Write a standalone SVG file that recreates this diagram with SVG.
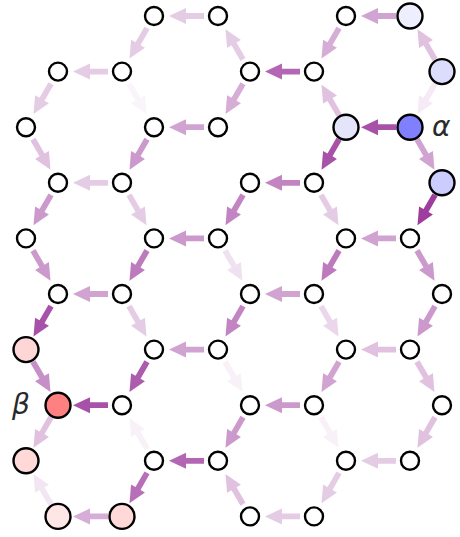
<svg xmlns="http://www.w3.org/2000/svg" xmlns:xlink="http://www.w3.org/1999/xlink" width="460" height="537" viewBox="0 0 460 537">
<style>
.n{fill:#ffffff;stroke:#000;stroke-width:2.4}
.lbl{font-family:"DejaVu Sans",sans-serif;font-style:italic;font-size:28px;fill:#2a2a2a}
</style>
<defs>
<path id="a" d="M14,-2.9 H32 V-8 L49,0 L32,8 V2.9 H14 Z" fill="#993399"/>
</defs>
<rect width="460" height="537" fill="#fff"/>
<g id="connectors">
<use xlink:href="#a" transform="translate(218,16) rotate(180)" opacity="0.25"/>
<use xlink:href="#a" transform="translate(410,16) rotate(180)" opacity="0.45"/>
<use xlink:href="#a" transform="translate(154,16) rotate(120)" opacity="0.25"/>
<use xlink:href="#a" transform="translate(250,71.6) rotate(-120)" opacity="0.25"/>
<use xlink:href="#a" transform="translate(346,16) rotate(120)" opacity="0.4"/>
<use xlink:href="#a" transform="translate(442,71.6) rotate(-120)" opacity="0.3"/>
<use xlink:href="#a" transform="translate(122,71.6) rotate(180)" opacity="0.25"/>
<use xlink:href="#a" transform="translate(314,71.6) rotate(180)" opacity="0.75"/>
<use xlink:href="#a" transform="translate(58,71.6) rotate(120)" opacity="0.25"/>
<use xlink:href="#a" transform="translate(122,71.6) rotate(60)" opacity="0.05"/>
<use xlink:href="#a" transform="translate(250,71.6) rotate(120)" opacity="0.4"/>
<use xlink:href="#a" transform="translate(346,127.2) rotate(-120)" opacity="0.3"/>
<use xlink:href="#a" transform="translate(442,71.6) rotate(120)" opacity="0.1"/>
<use xlink:href="#a" transform="translate(218,127.2) rotate(180)" opacity="0.45"/>
<use xlink:href="#a" transform="translate(410,127.2) rotate(180)" opacity="0.85"/>
<use xlink:href="#a" transform="translate(26,127.2) rotate(60)" opacity="0.3"/>
<use xlink:href="#a" transform="translate(154,127.2) rotate(120)" opacity="0.5"/>
<use xlink:href="#a" transform="translate(346,127.2) rotate(120)" opacity="0.85"/>
<use xlink:href="#a" transform="translate(410,127.2) rotate(60)" opacity="0.45"/>
<use xlink:href="#a" transform="translate(122,182.8) rotate(180)" opacity="0.25"/>
<use xlink:href="#a" transform="translate(314,182.8) rotate(180)" opacity="0.6"/>
<use xlink:href="#a" transform="translate(58,182.8) rotate(120)" opacity="0.5"/>
<use xlink:href="#a" transform="translate(122,182.8) rotate(60)" opacity="0.25"/>
<use xlink:href="#a" transform="translate(250,182.8) rotate(120)" opacity="0.6"/>
<use xlink:href="#a" transform="translate(314,182.8) rotate(60)" opacity="0.25"/>
<use xlink:href="#a" transform="translate(442,182.8) rotate(120)" opacity="0.95"/>
<use xlink:href="#a" transform="translate(218,238.4) rotate(180)" opacity="0.5"/>
<use xlink:href="#a" transform="translate(410,238.4) rotate(180)" opacity="0.45"/>
<use xlink:href="#a" transform="translate(26,238.4) rotate(60)" opacity="0.5"/>
<use xlink:href="#a" transform="translate(154,238.4) rotate(120)" opacity="0.65"/>
<use xlink:href="#a" transform="translate(218,238.4) rotate(60)" opacity="0.15"/>
<use xlink:href="#a" transform="translate(346,238.4) rotate(120)" opacity="0.65"/>
<use xlink:href="#a" transform="translate(410,238.4) rotate(60)" opacity="0.5"/>
<use xlink:href="#a" transform="translate(122,294) rotate(180)" opacity="0.45"/>
<use xlink:href="#a" transform="translate(314,294) rotate(180)" opacity="0.45"/>
<use xlink:href="#a" transform="translate(58,294) rotate(120)" opacity="0.85"/>
<use xlink:href="#a" transform="translate(122,294) rotate(60)" opacity="0.25"/>
<use xlink:href="#a" transform="translate(250,294) rotate(120)" opacity="0.6"/>
<use xlink:href="#a" transform="translate(314,294) rotate(60)" opacity="0.2"/>
<use xlink:href="#a" transform="translate(442,294) rotate(120)" opacity="0.5"/>
<use xlink:href="#a" transform="translate(218,349.6) rotate(180)" opacity="0.45"/>
<use xlink:href="#a" transform="translate(410,349.6) rotate(180)" opacity="0.3"/>
<use xlink:href="#a" transform="translate(26,349.6) rotate(60)" opacity="0.55"/>
<use xlink:href="#a" transform="translate(154,349.6) rotate(120)" opacity="0.8"/>
<use xlink:href="#a" transform="translate(218,349.6) rotate(60)" opacity="0.07"/>
<use xlink:href="#a" transform="translate(346,349.6) rotate(120)" opacity="0.45"/>
<use xlink:href="#a" transform="translate(410,349.6) rotate(60)" opacity="0.3"/>
<use xlink:href="#a" transform="translate(122,405.2) rotate(180)" opacity="0.85"/>
<use xlink:href="#a" transform="translate(314,405.2) rotate(180)" opacity="0.5"/>
<use xlink:href="#a" transform="translate(58,405.2) rotate(120)" opacity="0.3"/>
<use xlink:href="#a" transform="translate(154,460.8) rotate(-120)" opacity="0.07"/>
<use xlink:href="#a" transform="translate(250,405.2) rotate(120)" opacity="0.5"/>
<use xlink:href="#a" transform="translate(314,405.2) rotate(60)" opacity="0.07"/>
<use xlink:href="#a" transform="translate(442,405.2) rotate(120)" opacity="0.3"/>
<use xlink:href="#a" transform="translate(218,460.8) rotate(180)" opacity="0.75"/>
<use xlink:href="#a" transform="translate(410,460.8) rotate(180)" opacity="0.25"/>
<use xlink:href="#a" transform="translate(58,516.4) rotate(-120)" opacity="0.12"/>
<use xlink:href="#a" transform="translate(154,460.8) rotate(120)" opacity="0.7"/>
<use xlink:href="#a" transform="translate(250,516.4) rotate(-120)" opacity="0.3"/>
<use xlink:href="#a" transform="translate(346,460.8) rotate(120)" opacity="0.25"/>
<use xlink:href="#a" transform="translate(122,516.4) rotate(180)" opacity="0.4"/>
<use xlink:href="#a" transform="translate(314,516.4) rotate(180)" opacity="0.25"/>
</g>
<g id="nodes">
<g id="n0a"><circle class="n" cx="154" cy="16" r="9"/></g>
<g id="n0b"><circle class="n" cx="218" cy="16" r="9"/></g>
<g id="n0c"><circle class="n" cx="346" cy="16" r="9"/></g>
<g id="n0d"><circle class="n" cx="410" cy="16" r="12.5" style="fill:#eeeeff"/></g>
<g id="n1a"><circle class="n" cx="58" cy="71.6" r="9"/></g>
<g id="n1b"><circle class="n" cx="122" cy="71.6" r="9"/></g>
<g id="n1c"><circle class="n" cx="250" cy="71.6" r="9"/></g>
<g id="n1d"><circle class="n" cx="314" cy="71.6" r="9"/></g>
<g id="n1e"><circle class="n" cx="442" cy="71.6" r="12.5" style="fill:#dcdcfc"/></g>
<g id="n2a"><circle class="n" cx="26" cy="127.2" r="9"/></g>
<g id="n2b"><circle class="n" cx="154" cy="127.2" r="9"/></g>
<g id="n2c"><circle class="n" cx="218" cy="127.2" r="9"/></g>
<g id="n2d"><circle class="n" cx="346" cy="127.2" r="12.5" style="fill:#e4e4fa"/></g>
<g id="alpha"><circle class="n" cx="410" cy="127.2" r="12.5" style="fill:#8080ff"/><text class="lbl" x="432" y="136">α</text></g>
<g id="n3a"><circle class="n" cx="58" cy="182.8" r="9"/></g>
<g id="n3b"><circle class="n" cx="122" cy="182.8" r="9"/></g>
<g id="n3c"><circle class="n" cx="250" cy="182.8" r="9"/></g>
<g id="n3d"><circle class="n" cx="314" cy="182.8" r="9"/></g>
<g id="n3e"><circle class="n" cx="442" cy="182.8" r="12.5" style="fill:#ccccff"/></g>
<g id="n4a"><circle class="n" cx="26" cy="238.4" r="9"/></g>
<g id="n4b"><circle class="n" cx="154" cy="238.4" r="9"/></g>
<g id="n4c"><circle class="n" cx="218" cy="238.4" r="9"/></g>
<g id="n4d"><circle class="n" cx="346" cy="238.4" r="9"/></g>
<g id="n4e"><circle class="n" cx="410" cy="238.4" r="9"/></g>
<g id="n5a"><circle class="n" cx="58" cy="294" r="9"/></g>
<g id="n5b"><circle class="n" cx="122" cy="294" r="9"/></g>
<g id="n5c"><circle class="n" cx="250" cy="294" r="9"/></g>
<g id="n5d"><circle class="n" cx="314" cy="294" r="9"/></g>
<g id="n5e"><circle class="n" cx="442" cy="294" r="9"/></g>
<g id="n6a"><circle class="n" cx="26" cy="349.6" r="12.5" style="fill:#ffd6d6"/></g>
<g id="n6b"><circle class="n" cx="154" cy="349.6" r="9"/></g>
<g id="n6c"><circle class="n" cx="218" cy="349.6" r="9"/></g>
<g id="n6d"><circle class="n" cx="346" cy="349.6" r="9"/></g>
<g id="n6e"><circle class="n" cx="410" cy="349.6" r="9"/></g>
<g id="beta"><circle class="n" cx="58" cy="405.2" r="12.5" style="fill:#ff8080"/><text class="lbl" x="12" y="414">β</text></g>
<g id="n7b"><circle class="n" cx="122" cy="405.2" r="9"/></g>
<g id="n7c"><circle class="n" cx="250" cy="405.2" r="9"/></g>
<g id="n7d"><circle class="n" cx="314" cy="405.2" r="9"/></g>
<g id="n7e"><circle class="n" cx="442" cy="405.2" r="9"/></g>
<g id="n8a"><circle class="n" cx="26" cy="460.8" r="12.5" style="fill:#ffd8d8"/></g>
<g id="n8b"><circle class="n" cx="154" cy="460.8" r="9"/></g>
<g id="n8c"><circle class="n" cx="218" cy="460.8" r="9"/></g>
<g id="n8d"><circle class="n" cx="346" cy="460.8" r="9"/></g>
<g id="n8e"><circle class="n" cx="410" cy="460.8" r="9"/></g>
<g id="n9a"><circle class="n" cx="58" cy="516.4" r="12.5" style="fill:#ffe6e6"/></g>
<g id="n9b"><circle class="n" cx="122" cy="516.4" r="12.5" style="fill:#ffd8d8"/></g>
<g id="n9c"><circle class="n" cx="250" cy="516.4" r="9"/></g>
<g id="n9d"><circle class="n" cx="314" cy="516.4" r="9"/></g>
</g>
</svg>
